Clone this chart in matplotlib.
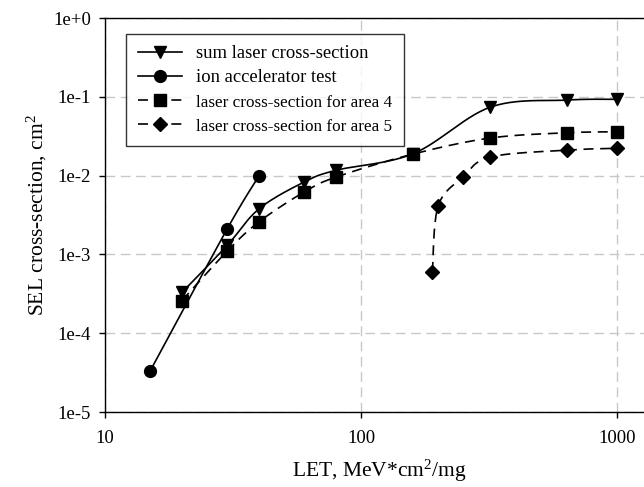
import numpy as np
from matplotlib import pyplot as plt
from matplotlib.ticker import FixedLocator, NullLocator

plt.rcParams['font.family'] = 'Liberation Serif'
plt.rcParams['mathtext.fontset'] = 'custom'
plt.rcParams['mathtext.rm'] = 'Liberation Serif'
plt.rcParams['mathtext.it'] = 'Liberation Serif:italic'

# data
let_sum = [20, 30, 40, 60, 80, 160, 320, 640, 1000]
sel_sum = [3.3e-4, 1.3e-3, 3.8e-3, 8.3e-3, 1.17e-2, 1.9e-2, 7.4e-2, 0.091, 0.093]

let_ion = [15, 30, 40]
sel_ion = [3.3e-5, 2.1e-3, 1.0e-2]

let_a4 = [20, 30, 40, 60, 80, 160, 320, 640, 1000]
sel_a4 = [2.6e-4, 1.1e-3, 2.6e-3, 6.2e-3, 9.6e-3, 1.88e-2, 0.030, 0.035, 0.036]

let_a5 = [190, 200, 250, 320, 640, 1000]
sel_a5 = [6.0e-4, 4.1e-3, 9.6e-3, 0.0172, 0.0211, 0.0222]

yticks = [1e-5, 1e-4, 1e-3, 1e-2, 1e-1, 1e0]
ytick_labels = ['1e-5', '1e-4', '1e-3', '1e-2', '1e-1', '1e+0']
xticks = [10, 100, 1000]
xtick_labels = ['10', '100', '1000']


def smooth(xs, ys, n=30):
    # excel-like smoothed line (catmull-rom in log-log space)
    lx = np.log10(xs)
    ly = np.log10(ys)
    px = np.concatenate([[lx[0]], lx, [lx[-1]]])
    py = np.concatenate([[ly[0]], ly, [ly[-1]]])
    outx, outy = [], []
    t = np.linspace(0, 1, n)
    for i in range(1, len(px) - 2):
        p0 = np.array([px[i], py[i]])
        p3 = np.array([px[i + 1], py[i + 1]])
        p1 = p0 + (np.array([px[i + 1], py[i + 1]]) - np.array([px[i - 1], py[i - 1]])) / 6
        p2 = p3 - (np.array([px[i + 2], py[i + 2]]) - np.array([px[i], py[i]])) / 6
        b = ((1 - t) ** 3)[:, None] * p0 + (3 * (1 - t) ** 2 * t)[:, None] * p1 \
            + (3 * (1 - t) * t ** 2)[:, None] * p2 + (t ** 3)[:, None] * p3
        outx.extend(b[:, 0])
        outy.extend(b[:, 1])
    return 10 ** np.array(outx), 10 ** np.array(outy)


fig = plt.figure(figsize=(6.44, 4.87), dpi=100)
ax = fig.add_axes([0.163, 0.154, 0.837, 0.809])
ax.set_xscale('log')
ax.set_yscale('log')
ax.set_xlim(10, 1274)
ax.set_ylim(1e-5, 1)

dash = (6, 4)
series = [
    (let_sum, sel_sum, 'v', '-', 9, 'sum laser cross-section'),
    (let_ion, sel_ion, 'o', '-', 8.5, 'ion accelerator test'),
    (let_a4, sel_a4, 's', '--', 8, 'laser cross-section for area 4'),
    (let_a5, sel_a5, 'D', '--', 7, 'laser cross-section for area 5'),
]
handles = []
for xs, ys, m, ls, ms, lab in series:
    sx, sy = smooth(xs, ys)
    line, = ax.plot(sx, sy, color='black', linestyle=ls, linewidth=1.2, zorder=3)
    if ls == '--':
        line.set_dashes(dash)
    ax.plot(xs, ys, marker=m, linestyle='none', color='black', markersize=ms, zorder=4)
    h, = ax.plot([], [], color='black', linestyle=ls, linewidth=1.2, marker=m, markersize=ms, label=lab)
    if ls == '--':
        h.set_dashes(dash)
    handles.append(h)

ax.xaxis.set_major_locator(FixedLocator(xticks))
ax.xaxis.set_minor_locator(NullLocator())
ax.set_xticklabels(xtick_labels)
ax.yaxis.set_major_locator(FixedLocator(yticks))
ax.yaxis.set_minor_locator(NullLocator())
ax.set_yticklabels(ytick_labels)
ax.tick_params(axis='both', direction='out', length=4, width=1, labelsize=13.5)
ax.tick_params(axis='x', pad=9)
ax.tick_params(axis='y', pad=6)

ax.grid(True, color='#c8c8c8', linestyle=(0, (7, 4)), linewidth=1, zorder=0)
ax.spines['right'].set_visible(False)
for s in ['left', 'top', 'bottom']:
    ax.spines[s].set_linewidth(1)

ax.set_xlabel('LET, MeV*cm$^2$/mg', fontsize=15.5)
ax.set_ylabel('SEL cross-section, cm$^2$', fontsize=15.5)
ax.xaxis.set_label_coords(0.508, -0.115)
ax.yaxis.set_label_coords(-0.104, 0.5)

leg = ax.legend(handles=handles, loc='upper left', bbox_to_anchor=(0.039, 0.96),
                borderaxespad=0, fontsize=13.4, frameon=True, fancybox=False,
                handlelength=2.4, handletextpad=0.75, labelspacing=0.38,
                borderpad=0.62, numpoints=1)
# the two area entries are set in a smaller type in the original
for txt in leg.get_texts()[2:]:
    txt.set_fontsize(12.3)
leg.get_frame().set_edgecolor('black')
leg.get_frame().set_linewidth(1)
leg.set_zorder(5)

plt.savefig('out.png', dpi=100)
